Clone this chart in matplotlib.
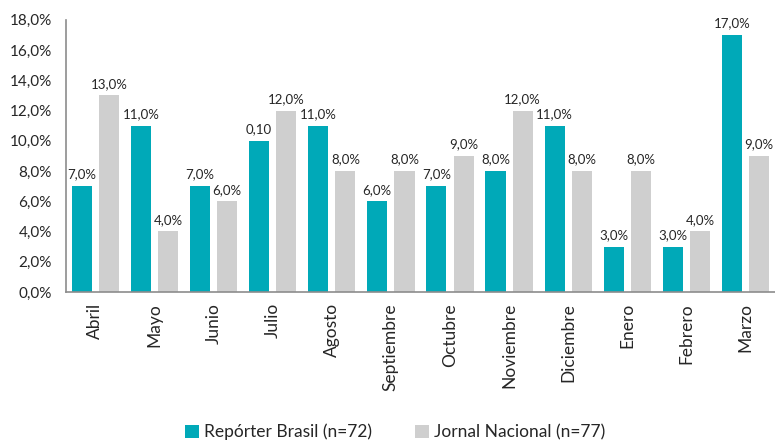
import numpy as np
import matplotlib
matplotlib.use("Agg")
import matplotlib.pyplot as plt

plt.rcParams['font.family'] = ['Lato', 'DejaVu Sans']

months = ['Abril', 'Mayo', 'Junio', 'Julio', 'Agosto', 'Septiembre', 'Octubre',
          'Noviembre', 'Diciembre', 'Enero', 'Febrero', 'Marzo']
reporter = [7, 11, 7, 10, 11, 6, 7, 8, 11, 3, 3, 17]
jornal = [13, 4, 6, 12, 8, 8, 9, 12, 8, 8, 4, 9]
reporter_labels = ['7,0%', '11,0%', '7,0%', '0,10', '11,0%', '6,0%', '7,0%',
                   '8,0%', '11,0%', '3,0%', '3,0%', '17,0%']
jornal_labels = ['%d,0%%' % v for v in jornal]

teal = '#00A9B8'
grey = '#CFCFCF'

fig = plt.figure(figsize=(7.75, 4.41), dpi=100)
ax = fig.add_axes([0.085, 0.338, 0.915, 0.617])

x = np.arange(len(months))
w = 0.34
off = 0.23
b1 = ax.bar(x - off, reporter, w, color=teal, label='Repórter Brasil (n=72)')
b2 = ax.bar(x + off, jornal, w, color=grey, label='Jornal Nacional (n=77)')

for rect, lab in zip(b1, reporter_labels):
    ax.annotate(lab, (rect.get_x() + rect.get_width() / 2, rect.get_height()),
                xytext=(0, 4), textcoords='offset points', ha='center', va='bottom',
                fontsize=9.5, color='#262626')
for rect, lab in zip(b2, jornal_labels):
    ax.annotate(lab, (rect.get_x() + rect.get_width() / 2, rect.get_height()),
                xytext=(0, 4), textcoords='offset points', ha='center', va='bottom',
                fontsize=9.5, color='#262626', annotation_clip=False)

ax.set_xlim(-0.5, len(months) - 0.5)
ax.set_ylim(0, 18)
ax.set_yticks(np.arange(0, 19, 2))
ax.set_yticklabels(['%d,0%%' % v for v in range(0, 19, 2)])
ax.set_xticks(x)
ax.set_xticklabels(months, rotation=90)
ax.tick_params(axis='both', length=0, colors='#262626')
ax.tick_params(axis='y', pad=10, labelsize=11)
ax.tick_params(axis='x', pad=8, labelsize=12.5)

for s in ['top', 'right']:
    ax.spines[s].set_visible(False)
for s in ['left', 'bottom']:
    ax.spines[s].set_color('#8C8C8C')
    ax.spines[s].set_linewidth(1.2)

fig.legend(handles=[b1, b2], loc='center', bbox_to_anchor=(0.51, 0.02),
           ncol=2, frameon=False, fontsize=12.5, handlelength=0.8, handleheight=0.8,
           handletextpad=0.3, columnspacing=2.5, labelcolor='#262626')

fig.savefig('out.png', dpi=100)
